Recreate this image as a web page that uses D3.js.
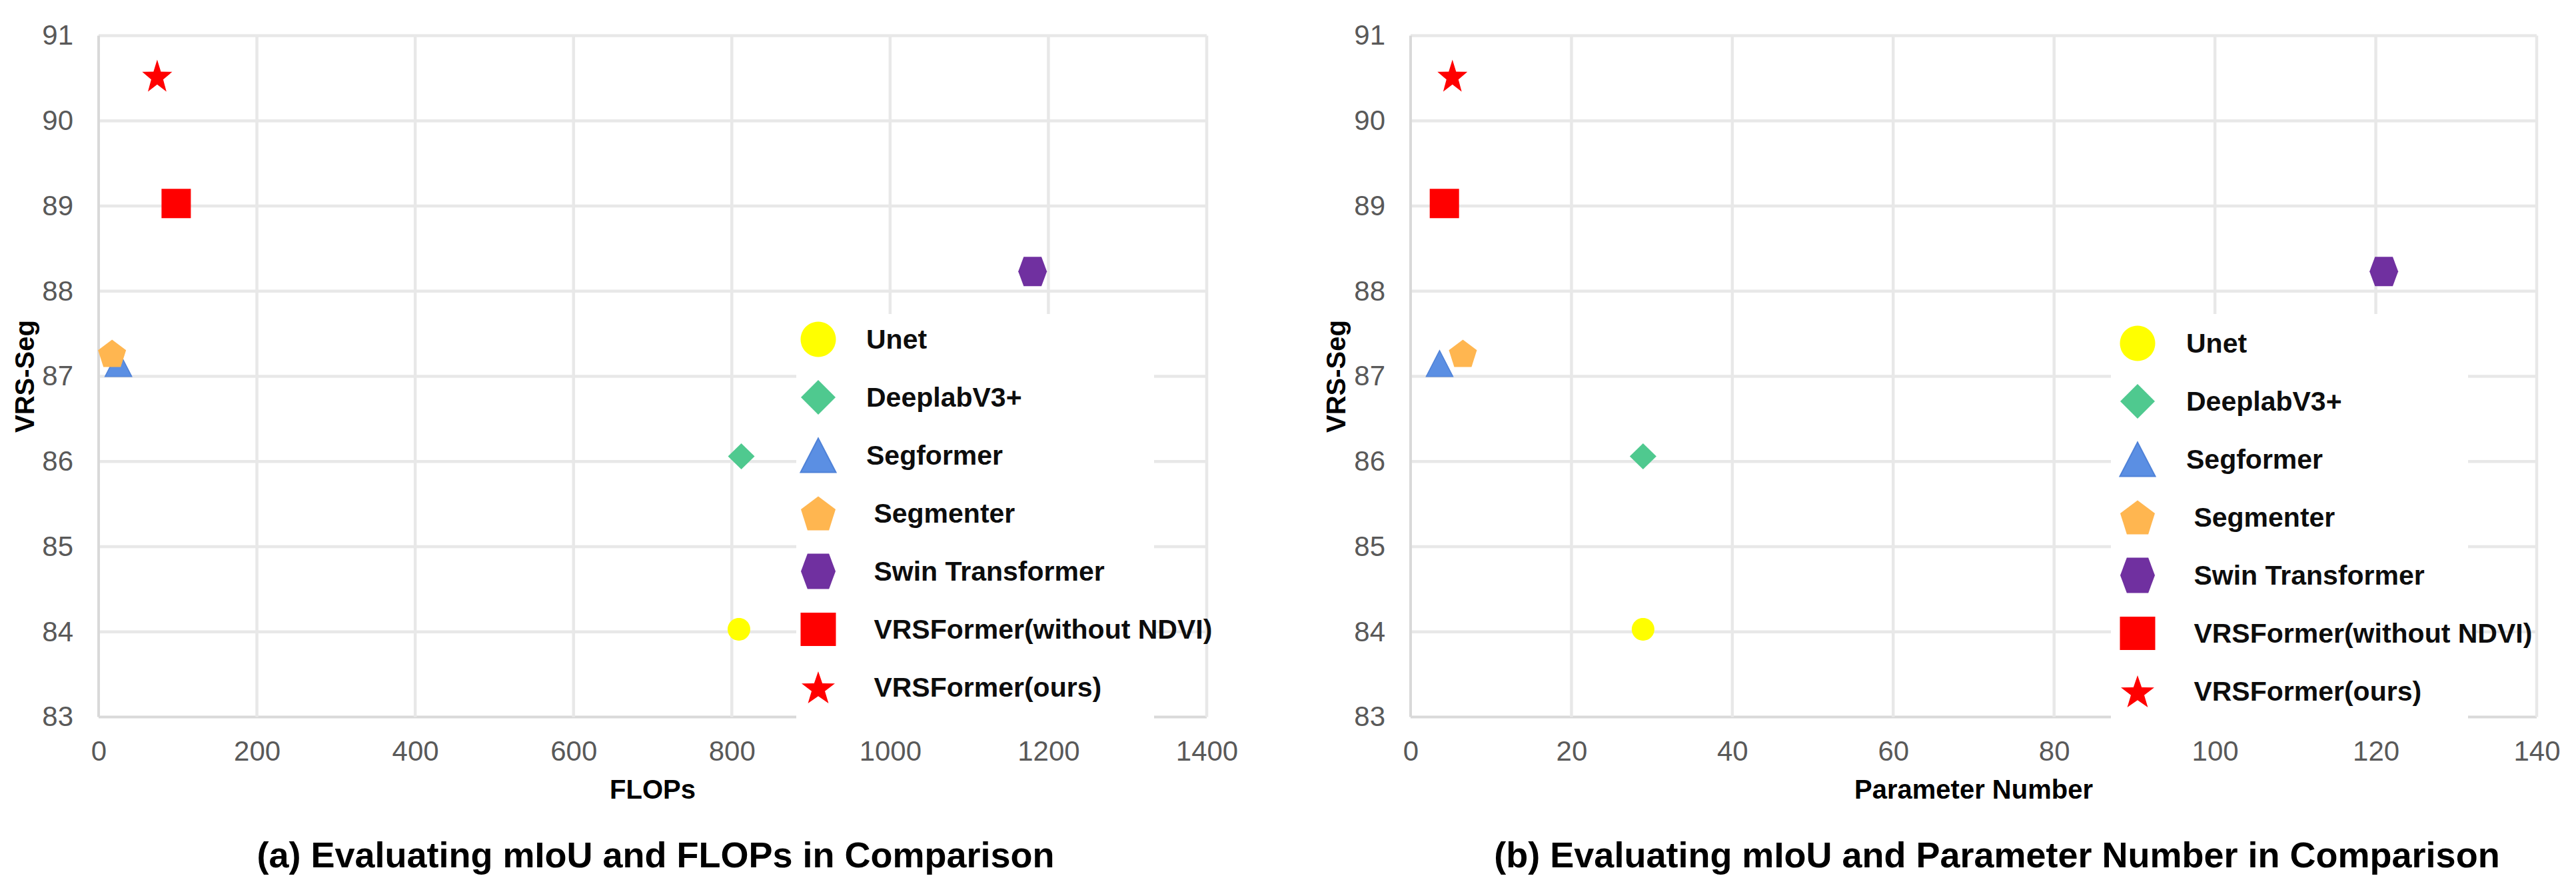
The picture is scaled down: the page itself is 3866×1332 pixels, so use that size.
<!DOCTYPE html>
<html>
<head>
<meta charset="utf-8">
<script src="https://cdn.jsdelivr.net/npm/d3@7"></script>
<style>
  body { margin: 0; background: #fff; }
  svg { display: block; font-family: "Liberation Sans", Arial, sans-serif; }
  .legend text { white-space: pre; }
</style>
</head>
<body>
<div class="vis-scatter"></div>
<script>
// values
const models = ["Unet", "DeeplabV3+", "Segformer", " Segmenter", " Swin Transformer", " VRSFormer(without NDVI)", " VRSFormer(ours)"];
const flops = [809, 812, 25, 17, 1180, 98, 74];
const params = [28.9, 28.9, 3.6, 6.5, 121, 4.2, 5.2];
const miou = [84.03, 86.06, 87.15, 87.27, 88.23, 89.03, 90.53];

const yTicks = [83, 84, 85, 86, 87, 88, 89, 90, 91];
const flopsTicks = [0, 200, 400, 600, 800, 1000, 1200, 1400];
const paramTicks = [0, 20, 40, 60, 80, 100, 120, 140];

// marker look per model (same order as models)
const markerStyle = [
  { shape: "circle",   color: "#FFFF00", w: 34, h: 34, lw: 53, lh: 53 },
  { shape: "diamond",  color: "#4FC98F", w: 40, h: 39, lw: 52, lh: 52 },
  { shape: "triangle", color: "#5B8FE3", w: 40, h: 39, lw: 53, lh: 51 },
  { shape: "pentagon", color: "#FFB650", w: 42, h: 41, lw: 52, lh: 51 },
  { shape: "hexagon",  color: "#7030A0", w: 43, h: 44, lw: 52, lh: 53 },
  { shape: "square",   color: "#FF0000", w: 44, h: 44, lw: 53, lh: 50 },
  { shape: "star",     color: "#FF0000", w: 45, h: 48, lw: 50, lh: 48 }
];

const panels = [
  { left: 148, right: 1811, xMax: 1400, ticks: flopsTicks, xs: flops,
    xTitle: "FLOPs", caption: "(a) Evaluating mIoU and FLOPs in Comparison", capX: 984, yTitleX: 51,
    legend: { x0: 1195, x1: 1732, top: 471, markX: 1228, textX: 1300, row0: 509 } },
  { left: 2117, right: 3807, xMax: 140, ticks: paramTicks, xs: params,
    xTitle: "Parameter Number", caption: "(b) Evaluating mIoU and Parameter Number in Comparison", capX: 2997, yTitleX: 2019,
    legend: { x0: 3168, x1: 3704, top: 471, markX: 3208, textX: 3281, row0: 515 } }
];

const plotTop = 53.5, plotBottom = 1075.5;
const rowStep = 87;

const unitPoly = (shape) => {
  if (shape === "circle") return d3.range(48).map((i) => [Math.cos(i * Math.PI / 24), Math.sin(i * Math.PI / 24)]);
  if (shape === "diamond") return [[0, -1], [1, 0], [0, 1], [-1, 0]];
  if (shape === "triangle") return [[0, -1], [1, 1], [-1, 1]];
  if (shape === "square") return [[-1, -1], [1, -1], [1, 1], [-1, 1]];
  if (shape === "hexagon") return [[-1, 0], [-0.62, -1], [0.62, -1], [1, 0], [0.62, 1], [-0.62, 1]];
  if (shape === "pentagon")
    return d3.range(5).map((i) => {
      const a = -Math.PI / 2 + i * 2 * Math.PI / 5;
      return [Math.cos(a), Math.sin(a)];
    });
  // star
  return d3.range(10).map((i) => {
    const a = -Math.PI / 2 + i * Math.PI / 5;
    const r = i % 2 ? 0.4 : 1;
    return [r * Math.cos(a), r * Math.sin(a)];
  });
};

// polygon fitted into a w x h box centred on 0,0
const markerPath = (shape, w, h) => {
  const pts = unitPoly(shape);
  const ex = d3.extent(pts, (p) => p[0]);
  const ey = d3.extent(pts, (p) => p[1]);
  const sx = d3.scaleLinear().domain(ex).range([-w / 2, w / 2]);
  const sy = d3.scaleLinear().domain(ey).range([-h / 2, h / 2]);
  return "M" + pts.map((p) => sx(p[0]).toFixed(2) + "," + sy(p[1]).toFixed(2)).join("L") + "Z";
};

const svg = d3
  .select(".vis-scatter")
  .append("svg")
  .attr("width", 3866)
  .attr("height", 1332);

svg.append("rect").attr("width", 3866).attr("height", 1332).attr("fill", "#fff");

const y = d3.scaleLinear().domain([83, 91]).range([plotBottom, plotTop]);

panels.forEach((p) => {
  const x = d3.scaleLinear().domain([0, p.xMax]).range([p.left, p.right]);
  const g = svg.append("g");

  // grid
  g.selectAll(".hgrid")
    .data(yTicks)
    .enter()
    .append("line")
    .attr("x1", p.left)
    .attr("x2", p.right)
    .attr("y1", (d) => y(d))
    .attr("y2", (d) => y(d))
    .attr("stroke", (d) => (d === 83 ? "#d9d9d9" : "#e8e8e8"))
    .attr("stroke-width", (d) => (d === 83 ? 4 : 4.5));

  g.selectAll(".vgrid")
    .data(p.ticks)
    .enter()
    .append("line")
    .attr("x1", (d) => x(d))
    .attr("x2", (d) => x(d))
    .attr("y1", plotTop)
    .attr("y2", plotBottom)
    .attr("stroke", (d) => (d === 0 ? "#d9d9d9" : "#e8e8e8"))
    .attr("stroke-width", (d) => (d === 0 ? 4 : 4.5));

  // axes (labels only)
  const yAxis = g.append("g")
    .attr("transform", "translate(" + p.left + ",0)")
    .call(d3.axisLeft(y).tickValues(yTicks).tickSize(0).tickPadding(38).tickFormat(d3.format("d")));
  const xAxis = g.append("g")
    .attr("transform", "translate(0," + plotBottom + ")")
    .call(d3.axisBottom(x).tickValues(p.ticks).tickSize(0).tickPadding(36).tickFormat(d3.format("d")));
  [yAxis, xAxis].forEach((a) => {
    a.select(".domain").remove();
    a.selectAll("text")
      .attr("fill", "#595959")
      .style("font-size", "42px")
      .style("font-family", "'Liberation Sans', Arial, sans-serif");
  });

  // points
  g.selectAll(".pt")
    .data(models.map((m, i) => ({ i: i, xv: p.xs[i], yv: miou[i] })))
    .enter()
    .append("path")
    .attr("class", "pt")
    .attr("transform", (d) => "translate(" + x(d.xv) + "," + y(d.yv) + ")")
    .attr("d", (d) => markerPath(markerStyle[d.i].shape, markerStyle[d.i].w, markerStyle[d.i].h))
    .attr("fill", (d) => markerStyle[d.i].color)
    .attr("stroke", (d) => (markerStyle[d.i].shape === "triangle" ? "#4f82d8" : "none"))
    .attr("stroke-width", 1.5);

  // legend
  const lg = g.append("g").attr("class", "legend");
  lg.append("rect")
    .attr("x", p.legend.x0)
    .attr("y", p.legend.top)
    .attr("width", p.legend.x1 - p.legend.x0)
    .attr("height", plotBottom + 4 - p.legend.top)
    .attr("fill", "#fff");

  const rows = lg.selectAll(".row")
    .data(models)
    .enter()
    .append("g")
    .attr("transform", (d, i) => "translate(0," + (p.legend.row0 + i * rowStep) + ")");

  rows.append("path")
    .attr("transform", "translate(" + p.legend.markX + ",0)")
    .attr("d", (d, i) => markerPath(markerStyle[i].shape, markerStyle[i].lw, markerStyle[i].lh))
    .attr("fill", (d, i) => markerStyle[i].color)
    .attr("stroke", (d, i) => (markerStyle[i].shape === "triangle" ? "#4f82d8" : "none"))
    .attr("stroke-width", 2);

  rows.append("text")
    .attr("x", p.legend.textX)
    .attr("dy", "0.35em")
    .attr("fill", "#0d0d0d")
    .style("font-size", "41px")
    .style("font-weight", "bold")
    .text((d) => d);

  // titles
  g.append("text")
    .attr("x", (p.left + p.right) / 2)
    .attr("y", 1198)
    .attr("text-anchor", "middle")
    .style("font-size", "40px")
    .style("font-weight", "bold")
    .text(p.xTitle);

  g.append("text")
    .attr("transform", "translate(" + p.yTitleX + "," + (plotTop + plotBottom) / 2 + ") rotate(-90)")
    .attr("text-anchor", "middle")
    .style("font-size", "40px")
    .style("font-weight", "bold")
    .text("VRS-Seg");

  g.append("text")
    .attr("x", p.capX)
    .attr("y", 1301)
    .attr("text-anchor", "middle")
    .style("font-size", "54px")
    .style("font-weight", "bold")
    .text(p.caption);
});
</script>
</body>
</html>
